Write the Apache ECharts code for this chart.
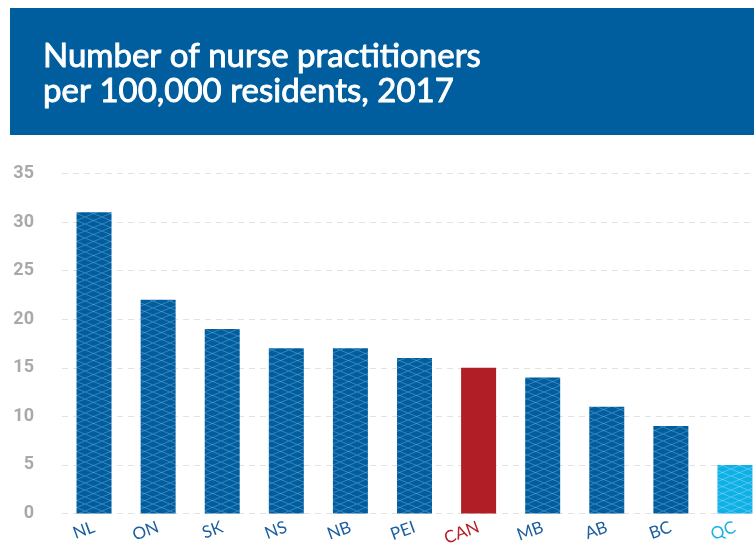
<!DOCTYPE html>
<html>
<head>
<meta charset="utf-8" />
<title>Nurse practitioners</title>
<script src="https://cdn.jsdelivr.net/npm/echarts@6/dist/echarts.min.js"></script>
<style>
  html, body { margin: 0; padding: 0; background: #fff; overflow: hidden; }
  #main { width: 770px; height: 546px; }
</style>
</head>
<body>
<div id="main"></div>
<script type="text/javascript">
// data
var provinces = ['NL', 'ON', 'SK', 'NS', 'NB', 'PEI', 'CAN', 'MB', 'AB', 'BC', 'QC'];
var npPer100k = [31, 22, 19, 17, 17, 16, 15, 14, 11, 9, 5];
var yTicks = [0, 5, 10, 15, 20, 25, 30, 35];

var BLUE = '#005e9f', RED = '#b11e25', CYAN = '#0fb0e6';
var labelColors = { 'CAN': '#b51f27', 'QC': '#1ab2e8' };

// crosshatch fill like the print version
function hatch(base, line) {
  var c = document.createElement('canvas');
  c.width = 17; c.height = 7;
  var ctx = c.getContext('2d');
  ctx.fillStyle = base;
  ctx.fillRect(0, 0, c.width, c.height);
  ctx.strokeStyle = line;
  ctx.lineWidth = 1;
  ctx.beginPath();
  ctx.moveTo(0, 0); ctx.lineTo(c.width, c.height);
  ctx.moveTo(0, c.height); ctx.lineTo(c.width, 0);
  ctx.stroke();
  return { image: c, repeat: 'repeat' };
}

var bars = npPer100k.map(function (v, i) {
  var p = provinces[i], fill;
  if (p === 'CAN') fill = RED;
  else if (p === 'QC') fill = hatch(CYAN, 'rgba(255,255,255,0.28)');
  else fill = hatch(BLUE, 'rgba(140,190,230,0.4)');
  return { value: v, itemStyle: { color: fill } };
});

var myChart = echarts.init(document.getElementById('main'));
var option = {
  animation: false,
  graphic: [{
    type: 'rect',
    left: 10, top: 8,
    shape: { width: 760, height: 127 },
    style: { fill: '#015e9e' },
    z: 0
  }],
  title: {
    text: 'Number of nurse practitioners\nper 100,000 residents, 2017',
    left: 38, top: 34,
    textStyle: {
      color: '#fff', fontFamily: 'Lato', fontWeight: 'normal',
      fontSize: 33, lineHeight: 35,
      textBorderColor: '#fff', textBorderWidth: 0.9
    }
  },
  grid: {
    left: 62, top: 173.5, width: 705, height: 340,
    containLabel: false, outerBoundsMode: 'none'
  },
  xAxis: {
    type: 'category',
    data: provinces,
    axisLine: { show: false },
    axisTick: { show: false },
    axisLabel: {
      rotate: 20,
      margin: 13,
      fontFamily: 'Lato', fontSize: 17,
      textBorderWidth: 0.4,
      textBorderColor: 'inherit',
      color: function (v) { return labelColors[v] || '#1b5f9f'; }
    }
  },
  yAxis: {
    type: 'value',
    min: yTicks[0], max: yTicks[yTicks.length - 1], interval: 5,
    axisLine: { show: false },
    axisTick: { show: false },
    axisLabel: {
      margin: 28,
      fontFamily: 'Roboto', fontWeight: 'bold', fontSize: 18, color: '#a9a9a9'
    },
    splitLine: { lineStyle: { color: '#e2e2e2', type: [6, 5], width: 1 } }
  },
  series: [{
    type: 'bar',
    data: bars,
    barWidth: 35
  }]
};
myChart.setOption(option);
</script>
</body>
</html>
